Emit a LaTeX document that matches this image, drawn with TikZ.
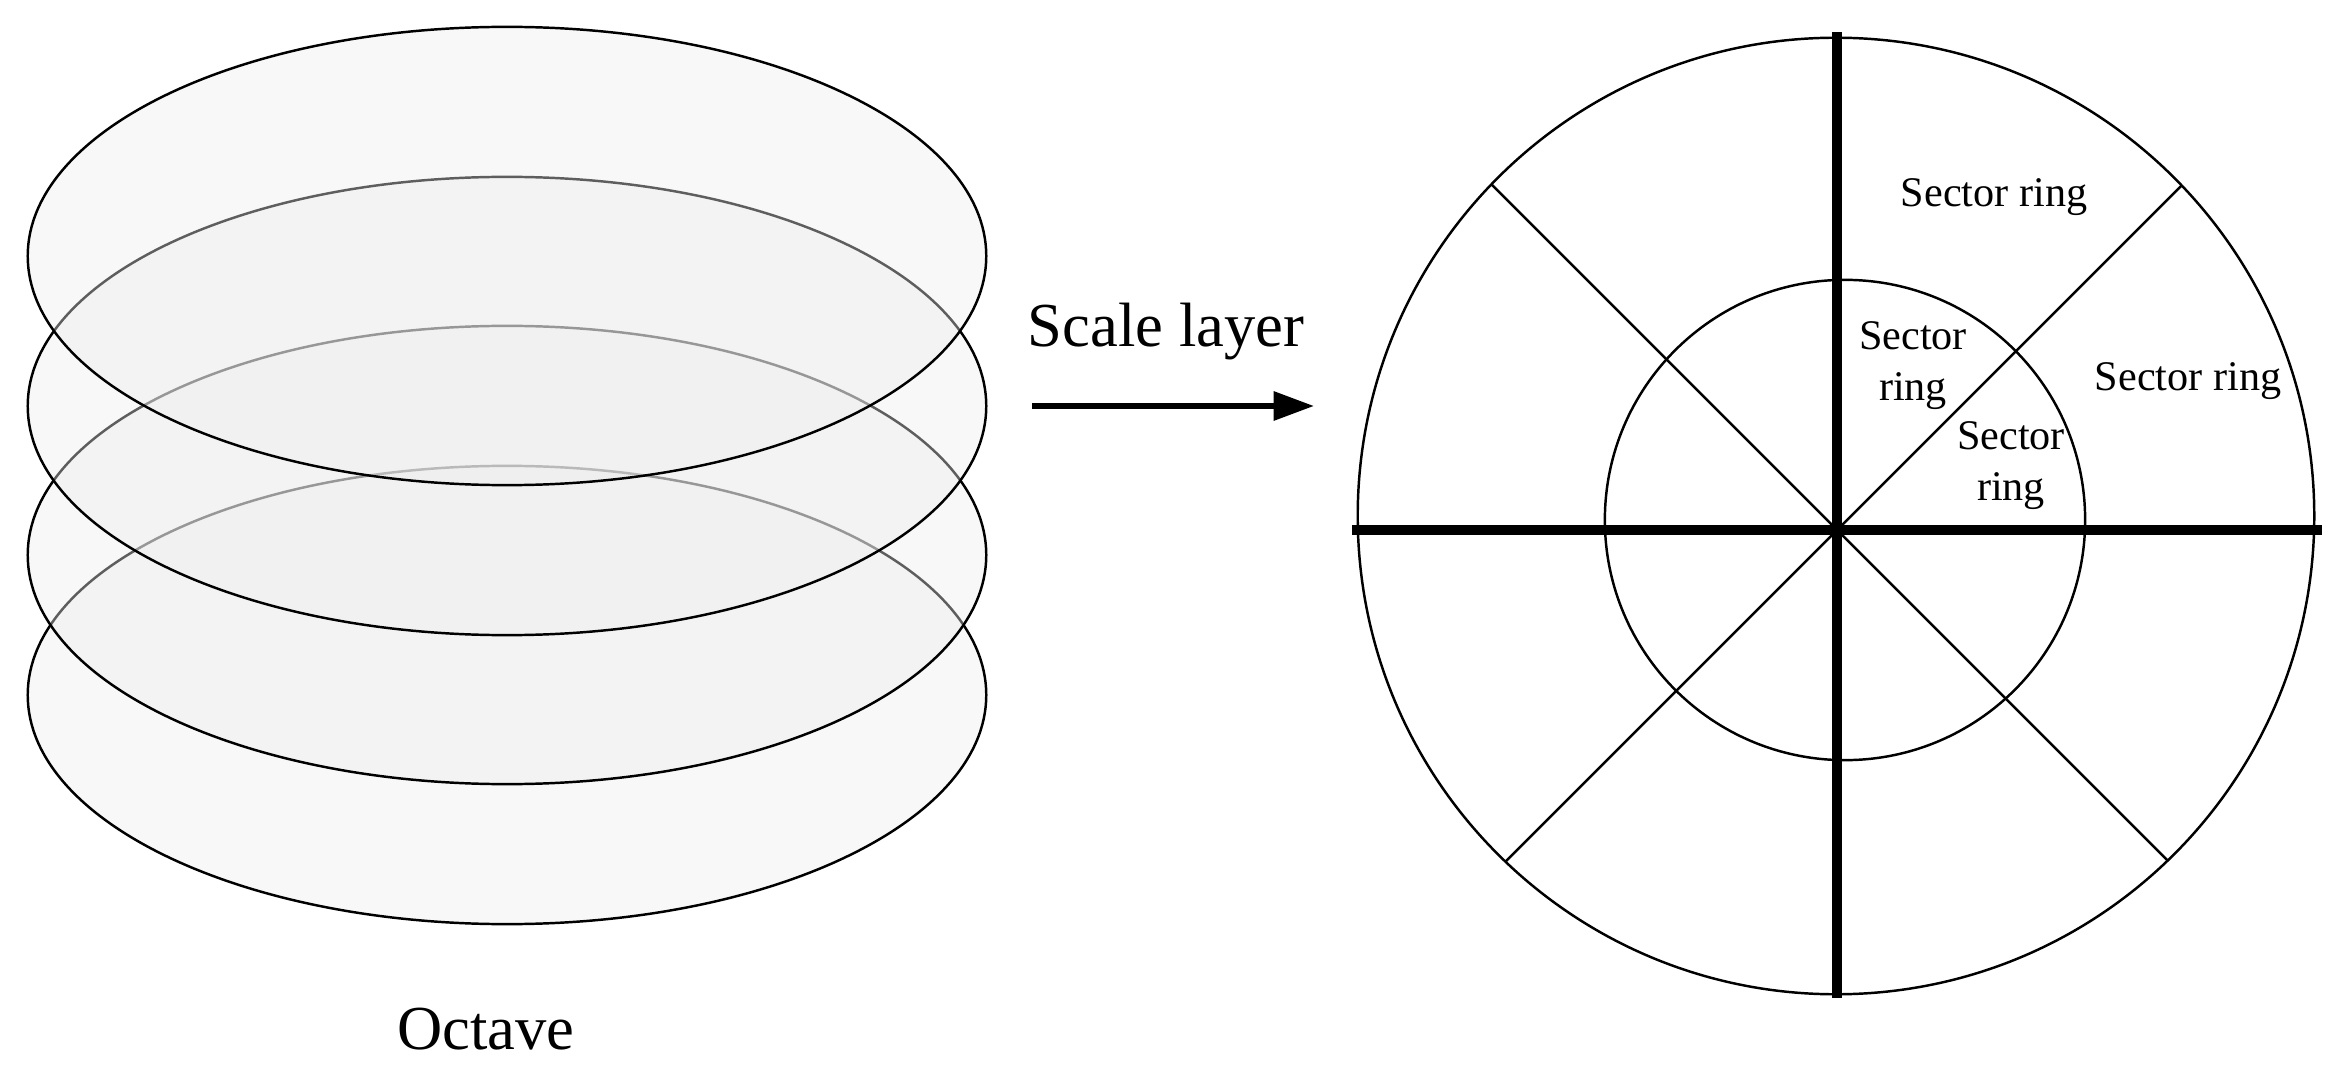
\documentclass[tikz,border=0pt]{standalone}
\usepackage{fontspec}
\setmainfont{Liberation Serif}
\usetikzlibrary{arrows.meta}
\begin{document}
\begin{tikzpicture}[x=0.01cm,y=-0.01cm,
  layer/.style={draw=black,line width=0.7pt,fill=black!7,fill opacity=0.4},
  thinline/.style={draw=black,line width=0.7pt},
  thickline/.style={draw=black,line width=2.7pt},
  small/.style={font=\fontsize{12}{14.5}\selectfont,align=center,inner sep=0pt},
  big/.style={font=\fontsize{17.8}{21}\selectfont,inner sep=0pt}]
\useasboundingbox (0,0) rectangle (2347,1070);
% stacked layers (bottom first)
\path[layer] (507,695) ellipse [x radius=4.79cm,y radius=2.29cm];
\path[layer] (507,555) ellipse [x radius=4.79cm,y radius=2.29cm];
\path[layer] (507,406) ellipse [x radius=4.79cm,y radius=2.29cm];
\path[layer] (507,256) ellipse [x radius=4.79cm,y radius=2.29cm];
\node[big] (oct) at (486,1029) {Octave};
% arrow
\coordinate (a1) at (1032,406);
\coordinate (a2) at (1314,406);
\draw[line width=1.7pt,-{Triangle[length=11.5pt,width=8pt]}] (a1) -- (a2);
\node[big] (scl) at (1166,332) {Scale layer};
% sector diagram
\coordinate (O) at (1837,530);
\path[thinline] (1836,516) circle [radius=4.78cm];
\path[thinline] (1845,520) circle [radius=2.40cm];
\coordinate (ul) at (1491.5,184.5);
\coordinate (ur) at (2181.4,185.6);
\coordinate (ll) at (1505.6,861.4);
\coordinate (lr) at (2167.5,860.5);
\draw[thinline] (O) -- (ul);
\draw[thinline] (O) -- (ur);
\draw[thinline] (O) -- (ll);
\draw[thinline] (O) -- (lr);
\coordinate (vt) at (1837,32);
\coordinate (vb) at (1837,998);
\coordinate (hl) at (1352,530);
\coordinate (hr) at (2322,530);
\draw[thickline] (vt) -- (vb);
\draw[thickline] (hl) -- (hr);
\node[small] (s1) at (1994,197) {Sector ring};
\node[small] (s2) at (2188,381) {Sector ring};
\node[small] (s3) at (1913,366) {Sector\\ring};
\node[small] (s4) at (2011,466) {Sector\\ring};
\end{tikzpicture}
\end{document}
